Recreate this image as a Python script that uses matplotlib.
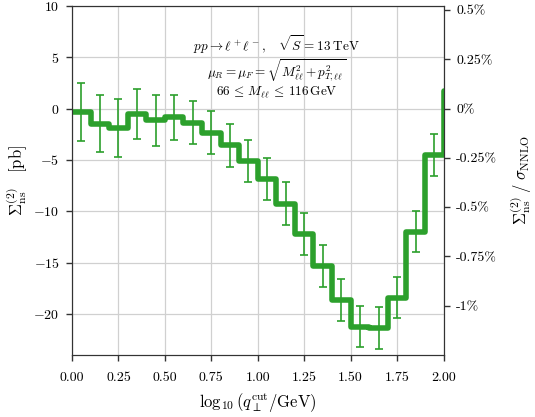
import numpy as np
import matplotlib
matplotlib.use("Agg")
import matplotlib.pyplot as plt

plt.rcParams.update({
    "font.family": "serif",
    "font.serif": ["cmr10"],
    "mathtext.fontset": "cm",
    "axes.formatter.use_mathtext": True,
    "axes.unicode_minus": True,
    "font.size": 10,
})

# bins in log10(qT_cut / GeV)
bin_edges = np.round(np.arange(0.0, 2.11, 0.1), 2)
# nonsingular O(as^2) remainder per bin [pb]; last entry lies beyond x = 2
sigma_ns = [-0.30, -1.45, -1.90, -0.55, -1.15, -0.85, -1.35, -2.35, -3.57, -5.08,
            -6.83, -9.25, -12.20, -15.30, -18.60, -21.25, -21.35, -18.40, -12.00, -4.50,
            1.75]
sigma_err = [2.83, 2.82, 2.80, 2.45, 2.45, 2.20, 2.12, 2.10, 2.07, 2.03,
             2.06, 2.06, 2.04, 2.04, 2.04, 2.01, 2.02, 2.01, 2.01, 2.02]
sigma_nnlo = 1920.0  # pb

pct_ticks = [0.5, 0.25, 0.0, -0.25, -0.5, -0.75, -1.0]
pct_labels = ["0.5%", "0.25%", "0%", "-0.25%", "-0.5%", "-0.75%", "-1%"]

green = "#2ca02c"

fig = plt.figure(figsize=(5.35, 4.17), dpi=100)
ax = fig.add_axes([0.1346, 0.1487, 0.6944, 0.8369])

centers = 0.5 * (bin_edges[:-2] + bin_edges[1:-1])
ax.errorbar(centers, sigma_ns[:-1], yerr=sigma_err, fmt="none", ecolor=green,
            elinewidth=1.2, capsize=3, capthick=1.2, zorder=3)
ax.step(bin_edges, sigma_ns + [sigma_ns[-1]], where="post", color=green, lw=4,
        solid_joinstyle="round", solid_capstyle="butt", zorder=4)

ax.set_xlim(0, 2)
ax.set_ylim(-24, 10)
ax.set_xticks(np.arange(0, 2.01, 0.25))
ax.set_xticklabels([f"{v:.2f}" for v in np.arange(0, 2.01, 0.25)])
ax.set_yticks([-20, -15, -10, -5, 0, 5, 10])
ax.grid(True, color="#d0d0d0", lw=0.9)
ax.set_axisbelow(True)
for s in ax.spines.values():
    s.set_color("#333333")
ax.tick_params(direction="out", length=4, width=1, color="#333333", pad=5)
ax.tick_params(axis="x", pad=8)

ax.set_xlabel(r"$\log_{10}(q_\perp^{\rm cut}/\mathrm{GeV})$", fontsize=12, labelpad=6)
ax.set_ylabel(r"$\Sigma^{(2)}_{\rm ns}\quad[\rm pb]$", fontsize=12)
ax.yaxis.set_label_coords(-0.112, 0.5)

info_lines = [
    (0.870, r"$pp \to \ell^+\ell^-,\quad \sqrt{S} = 13\;\mathrm{TeV}$"),
    (0.797, r"$\mu_R = \mu_F = \sqrt{M_{\ell\ell}^2 + p_{T,\ell\ell}^2}$"),
    (0.745, r"$66\, \leq\, M_{\ell\ell}\, \leq\, 116\,\mathrm{GeV}$"),
]
for yy, txt in info_lines:
    ax.text(0.55, yy, txt, transform=ax.transAxes, ha="center", va="baseline",
            fontsize=9.5)

# right axis: fraction of the NNLO cross section
ax2 = ax.twinx()
ax2.set_ylim(-24 / sigma_nnlo * 100, 10 / sigma_nnlo * 100)
ax2.set_yticks(pct_ticks)
ax2.set_yticklabels(pct_labels)
ax2.tick_params(direction="out", length=4, width=1, color="#333333", pad=5)
for s in ax2.spines.values():
    s.set_color("#333333")
ax2.set_ylabel(r"$\Sigma^{(2)}_{\rm ns}\;/\;\sigma_{\rm NNLO}$", fontsize=12, labelpad=8)

fig.savefig("out.png", dpi=100)
